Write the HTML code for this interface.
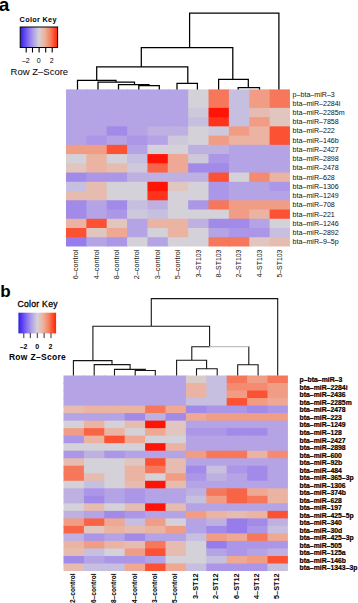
<!DOCTYPE html>
<html><head><meta charset="utf-8"><title>heatmap</title>
<style>html,body{margin:0;padding:0;background:#fff;width:358px;height:603px;overflow:hidden}svg{display:block}text{font-family:"Liberation Sans",sans-serif}</style>
</head><body>
<svg width="358" height="603" viewBox="0 0 358 603">
<defs>
<linearGradient id="g" x1="0" x2="1" y1="0" y2="0">
<stop offset="0" stop-color="#3020e4"/>
<stop offset="0.08" stop-color="#5038f0"/>
<stop offset="0.2" stop-color="#8068f0"/>
<stop offset="0.35" stop-color="#b0a0e8"/>
<stop offset="0.5" stop-color="#d4d2d6"/>
<stop offset="0.65" stop-color="#ecb4a0"/>
<stop offset="0.8" stop-color="#f68262"/>
<stop offset="0.95" stop-color="#fd3a1a"/>
<stop offset="1" stop-color="#ff2410"/>
</linearGradient>
</defs>
<rect x="66.00" y="89.40" width="21.36" height="10.24" fill="#b4a3e5"/>
<rect x="86.36" y="89.40" width="21.36" height="10.24" fill="#b4a3e5"/>
<rect x="106.72" y="89.40" width="21.36" height="10.24" fill="#b4a3e5"/>
<rect x="127.08" y="89.40" width="21.36" height="10.24" fill="#b4a3e5"/>
<rect x="147.44" y="89.40" width="21.36" height="10.24" fill="#b4a3e5"/>
<rect x="167.80" y="89.40" width="21.36" height="10.24" fill="#b4a3e5"/>
<rect x="188.16" y="89.40" width="21.36" height="10.24" fill="#d5d1d8"/>
<rect x="208.52" y="89.40" width="21.36" height="10.24" fill="#f7775a"/>
<rect x="228.88" y="89.40" width="21.36" height="10.24" fill="#c7bfdf"/>
<rect x="249.24" y="89.40" width="21.36" height="10.24" fill="#f19d85"/>
<rect x="269.60" y="89.40" width="20.36" height="10.24" fill="#f7775a"/>
<rect x="66.00" y="98.64" width="21.36" height="10.24" fill="#b4a3e5"/>
<rect x="86.36" y="98.64" width="21.36" height="10.24" fill="#b4a3e5"/>
<rect x="106.72" y="98.64" width="21.36" height="10.24" fill="#b4a3e5"/>
<rect x="127.08" y="98.64" width="21.36" height="10.24" fill="#b4a3e5"/>
<rect x="147.44" y="98.64" width="21.36" height="10.24" fill="#b4a3e5"/>
<rect x="167.80" y="98.64" width="21.36" height="10.24" fill="#b4a3e5"/>
<rect x="188.16" y="98.64" width="21.36" height="10.24" fill="#d5d1d8"/>
<rect x="208.52" y="98.64" width="21.36" height="10.24" fill="#f7775a"/>
<rect x="228.88" y="98.64" width="21.36" height="10.24" fill="#c7bfdf"/>
<rect x="249.24" y="98.64" width="21.36" height="10.24" fill="#f19d85"/>
<rect x="269.60" y="98.64" width="20.36" height="10.24" fill="#f7775a"/>
<rect x="66.00" y="107.88" width="21.36" height="10.24" fill="#b4a3e5"/>
<rect x="86.36" y="107.88" width="21.36" height="10.24" fill="#b4a3e5"/>
<rect x="106.72" y="107.88" width="21.36" height="10.24" fill="#b4a3e5"/>
<rect x="127.08" y="107.88" width="21.36" height="10.24" fill="#b4a3e5"/>
<rect x="147.44" y="107.88" width="21.36" height="10.24" fill="#b4a3e5"/>
<rect x="167.80" y="107.88" width="21.36" height="10.24" fill="#b4a3e5"/>
<rect x="188.16" y="107.88" width="21.36" height="10.24" fill="#cec8dc"/>
<rect x="208.52" y="107.88" width="21.36" height="10.24" fill="#ff1406"/>
<rect x="228.88" y="107.88" width="21.36" height="10.24" fill="#c7bfdf"/>
<rect x="249.24" y="107.88" width="21.36" height="10.24" fill="#e6bcb0"/>
<rect x="269.60" y="107.88" width="20.36" height="10.24" fill="#e0c6be"/>
<rect x="66.00" y="117.12" width="21.36" height="10.24" fill="#b4a3e5"/>
<rect x="86.36" y="117.12" width="21.36" height="10.24" fill="#b4a3e5"/>
<rect x="106.72" y="117.12" width="21.36" height="10.24" fill="#b4a3e5"/>
<rect x="127.08" y="117.12" width="21.36" height="10.24" fill="#b4a3e5"/>
<rect x="147.44" y="117.12" width="21.36" height="10.24" fill="#b4a3e5"/>
<rect x="167.80" y="117.12" width="21.36" height="10.24" fill="#b4a3e5"/>
<rect x="188.16" y="117.12" width="21.36" height="10.24" fill="#c7bfdf"/>
<rect x="208.52" y="117.12" width="21.36" height="10.24" fill="#fe331c"/>
<rect x="228.88" y="117.12" width="21.36" height="10.24" fill="#c7bfdf"/>
<rect x="249.24" y="117.12" width="21.36" height="10.24" fill="#f19d85"/>
<rect x="269.60" y="117.12" width="20.36" height="10.24" fill="#e0c6be"/>
<rect x="66.00" y="126.36" width="21.36" height="10.24" fill="#b4a3e5"/>
<rect x="86.36" y="126.36" width="21.36" height="10.24" fill="#b4a3e5"/>
<rect x="106.72" y="126.36" width="21.36" height="10.24" fill="#a28ae9"/>
<rect x="127.08" y="126.36" width="21.36" height="10.24" fill="#b4a3e5"/>
<rect x="147.44" y="126.36" width="21.36" height="10.24" fill="#beb1e2"/>
<rect x="167.80" y="126.36" width="21.36" height="10.24" fill="#beb1e2"/>
<rect x="188.16" y="126.36" width="21.36" height="10.24" fill="#d5d1d8"/>
<rect x="208.52" y="126.36" width="21.36" height="10.24" fill="#cec8dc"/>
<rect x="228.88" y="126.36" width="21.36" height="10.24" fill="#f19d85"/>
<rect x="249.24" y="126.36" width="21.36" height="10.24" fill="#ebb3a2"/>
<rect x="269.60" y="126.36" width="20.36" height="10.24" fill="#fc5233"/>
<rect x="66.00" y="135.60" width="21.36" height="10.24" fill="#b4a3e5"/>
<rect x="86.36" y="135.60" width="21.36" height="10.24" fill="#ab96e7"/>
<rect x="106.72" y="135.60" width="21.36" height="10.24" fill="#b4a3e5"/>
<rect x="127.08" y="135.60" width="21.36" height="10.24" fill="#ab96e7"/>
<rect x="147.44" y="135.60" width="21.36" height="10.24" fill="#b4a3e5"/>
<rect x="167.80" y="135.60" width="21.36" height="10.24" fill="#cec8dc"/>
<rect x="188.16" y="135.60" width="21.36" height="10.24" fill="#d5d1d8"/>
<rect x="208.52" y="135.60" width="21.36" height="10.24" fill="#f19d85"/>
<rect x="228.88" y="135.60" width="21.36" height="10.24" fill="#ebb3a2"/>
<rect x="249.24" y="135.60" width="21.36" height="10.24" fill="#ebb3a2"/>
<rect x="269.60" y="135.60" width="20.36" height="10.24" fill="#fc5233"/>
<rect x="66.00" y="144.84" width="21.36" height="10.24" fill="#f19d85"/>
<rect x="86.36" y="144.84" width="21.36" height="10.24" fill="#f19d85"/>
<rect x="106.72" y="144.84" width="21.36" height="10.24" fill="#fc5233"/>
<rect x="127.08" y="144.84" width="21.36" height="10.24" fill="#b4a3e5"/>
<rect x="147.44" y="144.84" width="21.36" height="10.24" fill="#d5d1d8"/>
<rect x="167.80" y="144.84" width="21.36" height="10.24" fill="#d5d1d8"/>
<rect x="188.16" y="144.84" width="21.36" height="10.24" fill="#beb1e2"/>
<rect x="208.52" y="144.84" width="21.36" height="10.24" fill="#beb1e2"/>
<rect x="228.88" y="144.84" width="21.36" height="10.24" fill="#b4a3e5"/>
<rect x="249.24" y="144.84" width="21.36" height="10.24" fill="#b4a3e5"/>
<rect x="269.60" y="144.84" width="20.36" height="10.24" fill="#b4a3e5"/>
<rect x="66.00" y="154.08" width="21.36" height="10.24" fill="#d5d1d8"/>
<rect x="86.36" y="154.08" width="21.36" height="10.24" fill="#ebb3a2"/>
<rect x="106.72" y="154.08" width="21.36" height="10.24" fill="#d5d1d8"/>
<rect x="127.08" y="154.08" width="21.36" height="10.24" fill="#c7bfdf"/>
<rect x="147.44" y="154.08" width="21.36" height="10.24" fill="#ff1406"/>
<rect x="167.80" y="154.08" width="21.36" height="10.24" fill="#eea894"/>
<rect x="188.16" y="154.08" width="21.36" height="10.24" fill="#cec8dc"/>
<rect x="208.52" y="154.08" width="21.36" height="10.24" fill="#ab96e7"/>
<rect x="228.88" y="154.08" width="21.36" height="10.24" fill="#b4a3e5"/>
<rect x="249.24" y="154.08" width="21.36" height="10.24" fill="#b4a3e5"/>
<rect x="269.60" y="154.08" width="20.36" height="10.24" fill="#b4a3e5"/>
<rect x="66.00" y="163.32" width="21.36" height="10.24" fill="#e0c6be"/>
<rect x="86.36" y="163.32" width="21.36" height="10.24" fill="#ebb3a2"/>
<rect x="106.72" y="163.32" width="21.36" height="10.24" fill="#e6bcb0"/>
<rect x="127.08" y="163.32" width="21.36" height="10.24" fill="#cec8dc"/>
<rect x="147.44" y="163.32" width="21.36" height="10.24" fill="#fa6446"/>
<rect x="167.80" y="163.32" width="21.36" height="10.24" fill="#eea894"/>
<rect x="188.16" y="163.32" width="21.36" height="10.24" fill="#a28ae9"/>
<rect x="208.52" y="163.32" width="21.36" height="10.24" fill="#a28ae9"/>
<rect x="228.88" y="163.32" width="21.36" height="10.24" fill="#b4a3e5"/>
<rect x="249.24" y="163.32" width="21.36" height="10.24" fill="#b4a3e5"/>
<rect x="269.60" y="163.32" width="20.36" height="10.24" fill="#b4a3e5"/>
<rect x="66.00" y="172.56" width="21.36" height="10.24" fill="#a28ae9"/>
<rect x="86.36" y="172.56" width="21.36" height="10.24" fill="#ab96e7"/>
<rect x="106.72" y="172.56" width="21.36" height="10.24" fill="#ab96e7"/>
<rect x="127.08" y="172.56" width="21.36" height="10.24" fill="#beb1e2"/>
<rect x="147.44" y="172.56" width="21.36" height="10.24" fill="#beb1e2"/>
<rect x="167.80" y="172.56" width="21.36" height="10.24" fill="#beb1e2"/>
<rect x="188.16" y="172.56" width="21.36" height="10.24" fill="#beb1e2"/>
<rect x="208.52" y="172.56" width="21.36" height="10.24" fill="#fc5233"/>
<rect x="228.88" y="172.56" width="21.36" height="10.24" fill="#d5d1d8"/>
<rect x="249.24" y="172.56" width="21.36" height="10.24" fill="#f48a70"/>
<rect x="269.60" y="172.56" width="20.36" height="10.24" fill="#ebb3a2"/>
<rect x="66.00" y="181.80" width="21.36" height="10.24" fill="#c7bfdf"/>
<rect x="86.36" y="181.80" width="21.36" height="10.24" fill="#e6bcb0"/>
<rect x="106.72" y="181.80" width="21.36" height="10.24" fill="#d5d1d8"/>
<rect x="127.08" y="181.80" width="21.36" height="10.24" fill="#d5d1d8"/>
<rect x="147.44" y="181.80" width="21.36" height="10.24" fill="#ff1406"/>
<rect x="167.80" y="181.80" width="21.36" height="10.24" fill="#e0c6be"/>
<rect x="188.16" y="181.80" width="21.36" height="10.24" fill="#d5d1d8"/>
<rect x="208.52" y="181.80" width="21.36" height="10.24" fill="#ab96e7"/>
<rect x="228.88" y="181.80" width="21.36" height="10.24" fill="#b4a3e5"/>
<rect x="249.24" y="181.80" width="21.36" height="10.24" fill="#b4a3e5"/>
<rect x="269.60" y="181.80" width="20.36" height="10.24" fill="#ab96e7"/>
<rect x="66.00" y="191.04" width="21.36" height="10.24" fill="#e6bcb0"/>
<rect x="86.36" y="191.04" width="21.36" height="10.24" fill="#e6bcb0"/>
<rect x="106.72" y="191.04" width="21.36" height="10.24" fill="#d5d1d8"/>
<rect x="127.08" y="191.04" width="21.36" height="10.24" fill="#d5d1d8"/>
<rect x="147.44" y="191.04" width="21.36" height="10.24" fill="#fe331c"/>
<rect x="167.80" y="191.04" width="21.36" height="10.24" fill="#d5d1d8"/>
<rect x="188.16" y="191.04" width="21.36" height="10.24" fill="#d5d1d8"/>
<rect x="208.52" y="191.04" width="21.36" height="10.24" fill="#ab96e7"/>
<rect x="228.88" y="191.04" width="21.36" height="10.24" fill="#b4a3e5"/>
<rect x="249.24" y="191.04" width="21.36" height="10.24" fill="#b4a3e5"/>
<rect x="269.60" y="191.04" width="20.36" height="10.24" fill="#b4a3e5"/>
<rect x="66.00" y="200.28" width="21.36" height="10.24" fill="#a28ae9"/>
<rect x="86.36" y="200.28" width="21.36" height="10.24" fill="#b4a3e5"/>
<rect x="106.72" y="200.28" width="21.36" height="10.24" fill="#a28ae9"/>
<rect x="127.08" y="200.28" width="21.36" height="10.24" fill="#c7bfdf"/>
<rect x="147.44" y="200.28" width="21.36" height="10.24" fill="#beb1e2"/>
<rect x="167.80" y="200.28" width="21.36" height="10.24" fill="#d5d1d8"/>
<rect x="188.16" y="200.28" width="21.36" height="10.24" fill="#ab96e7"/>
<rect x="208.52" y="200.28" width="21.36" height="10.24" fill="#f7775a"/>
<rect x="228.88" y="200.28" width="21.36" height="10.24" fill="#f19d85"/>
<rect x="249.24" y="200.28" width="21.36" height="10.24" fill="#f19d85"/>
<rect x="269.60" y="200.28" width="20.36" height="10.24" fill="#f19d85"/>
<rect x="66.00" y="209.52" width="21.36" height="10.24" fill="#a28ae9"/>
<rect x="86.36" y="209.52" width="21.36" height="10.24" fill="#b4a3e5"/>
<rect x="106.72" y="209.52" width="21.36" height="10.24" fill="#ab96e7"/>
<rect x="127.08" y="209.52" width="21.36" height="10.24" fill="#cec8dc"/>
<rect x="147.44" y="209.52" width="21.36" height="10.24" fill="#c7bfdf"/>
<rect x="167.80" y="209.52" width="21.36" height="10.24" fill="#d5d1d8"/>
<rect x="188.16" y="209.52" width="21.36" height="10.24" fill="#d5d1d8"/>
<rect x="208.52" y="209.52" width="21.36" height="10.24" fill="#d5d1d8"/>
<rect x="228.88" y="209.52" width="21.36" height="10.24" fill="#f19d85"/>
<rect x="249.24" y="209.52" width="21.36" height="10.24" fill="#ebb3a2"/>
<rect x="269.60" y="209.52" width="20.36" height="10.24" fill="#fc5233"/>
<rect x="66.00" y="218.76" width="21.36" height="10.24" fill="#ebb3a2"/>
<rect x="86.36" y="218.76" width="21.36" height="10.24" fill="#fc5233"/>
<rect x="106.72" y="218.76" width="21.36" height="10.24" fill="#e0c6be"/>
<rect x="127.08" y="218.76" width="21.36" height="10.24" fill="#b4a3e5"/>
<rect x="147.44" y="218.76" width="21.36" height="10.24" fill="#ebb3a2"/>
<rect x="167.80" y="218.76" width="21.36" height="10.24" fill="#ebb3a2"/>
<rect x="188.16" y="218.76" width="21.36" height="10.24" fill="#beb1e2"/>
<rect x="208.52" y="218.76" width="21.36" height="10.24" fill="#a28ae9"/>
<rect x="228.88" y="218.76" width="21.36" height="10.24" fill="#a28ae9"/>
<rect x="249.24" y="218.76" width="21.36" height="10.24" fill="#b4a3e5"/>
<rect x="269.60" y="218.76" width="20.36" height="10.24" fill="#d5d1d8"/>
<rect x="66.00" y="228.00" width="21.36" height="10.24" fill="#fc5233"/>
<rect x="86.36" y="228.00" width="21.36" height="10.24" fill="#e0c6be"/>
<rect x="106.72" y="228.00" width="21.36" height="10.24" fill="#eea894"/>
<rect x="127.08" y="228.00" width="21.36" height="10.24" fill="#b4a3e5"/>
<rect x="147.44" y="228.00" width="21.36" height="10.24" fill="#d5d1d8"/>
<rect x="167.80" y="228.00" width="21.36" height="10.24" fill="#ebb3a2"/>
<rect x="188.16" y="228.00" width="21.36" height="10.24" fill="#d5d1d8"/>
<rect x="208.52" y="228.00" width="21.36" height="10.24" fill="#b4a3e5"/>
<rect x="228.88" y="228.00" width="21.36" height="10.24" fill="#ab96e7"/>
<rect x="249.24" y="228.00" width="21.36" height="10.24" fill="#ab96e7"/>
<rect x="269.60" y="228.00" width="20.36" height="10.24" fill="#c7bfdf"/>
<rect x="66.00" y="237.24" width="21.36" height="9.24" fill="#977dec"/>
<rect x="86.36" y="237.24" width="21.36" height="9.24" fill="#b4a3e5"/>
<rect x="106.72" y="237.24" width="21.36" height="9.24" fill="#ab96e7"/>
<rect x="127.08" y="237.24" width="21.36" height="9.24" fill="#d5d1d8"/>
<rect x="147.44" y="237.24" width="21.36" height="9.24" fill="#b4a3e5"/>
<rect x="167.80" y="237.24" width="21.36" height="9.24" fill="#d5d1d8"/>
<rect x="188.16" y="237.24" width="21.36" height="9.24" fill="#d5d1d8"/>
<rect x="208.52" y="237.24" width="21.36" height="9.24" fill="#f7775a"/>
<rect x="228.88" y="237.24" width="21.36" height="9.24" fill="#f7775a"/>
<rect x="249.24" y="237.24" width="21.36" height="9.24" fill="#e0c6be"/>
<rect x="269.60" y="237.24" width="20.36" height="9.24" fill="#e6bcb0"/>
<rect x="63.50" y="375.50" width="21.40" height="8.52" fill="#b4a3e5"/>
<rect x="83.90" y="375.50" width="21.40" height="8.52" fill="#b4a3e5"/>
<rect x="104.30" y="375.50" width="21.40" height="8.52" fill="#b4a3e5"/>
<rect x="124.70" y="375.50" width="21.40" height="8.52" fill="#b4a3e5"/>
<rect x="145.10" y="375.50" width="21.40" height="8.52" fill="#b4a3e5"/>
<rect x="165.50" y="375.50" width="21.40" height="8.52" fill="#b4a3e5"/>
<rect x="185.90" y="375.50" width="21.40" height="8.52" fill="#dacccb"/>
<rect x="206.30" y="375.50" width="21.40" height="8.52" fill="#c7bfdf"/>
<rect x="226.70" y="375.50" width="21.40" height="8.52" fill="#f7775a"/>
<rect x="247.10" y="375.50" width="21.40" height="8.52" fill="#f19d85"/>
<rect x="267.50" y="375.50" width="20.40" height="8.52" fill="#f7775a"/>
<rect x="63.50" y="383.02" width="21.40" height="8.52" fill="#b4a3e5"/>
<rect x="83.90" y="383.02" width="21.40" height="8.52" fill="#b4a3e5"/>
<rect x="104.30" y="383.02" width="21.40" height="8.52" fill="#b4a3e5"/>
<rect x="124.70" y="383.02" width="21.40" height="8.52" fill="#b4a3e5"/>
<rect x="145.10" y="383.02" width="21.40" height="8.52" fill="#b4a3e5"/>
<rect x="165.50" y="383.02" width="21.40" height="8.52" fill="#b4a3e5"/>
<rect x="185.90" y="383.02" width="21.40" height="8.52" fill="#ebb3a2"/>
<rect x="206.30" y="383.02" width="21.40" height="8.52" fill="#c7bfdf"/>
<rect x="226.70" y="383.02" width="21.40" height="8.52" fill="#f48a70"/>
<rect x="247.10" y="383.02" width="21.40" height="8.52" fill="#f48a70"/>
<rect x="267.50" y="383.02" width="20.40" height="8.52" fill="#f19d85"/>
<rect x="63.50" y="390.54" width="21.40" height="8.52" fill="#b4a3e5"/>
<rect x="83.90" y="390.54" width="21.40" height="8.52" fill="#b4a3e5"/>
<rect x="104.30" y="390.54" width="21.40" height="8.52" fill="#b4a3e5"/>
<rect x="124.70" y="390.54" width="21.40" height="8.52" fill="#b4a3e5"/>
<rect x="145.10" y="390.54" width="21.40" height="8.52" fill="#b4a3e5"/>
<rect x="165.50" y="390.54" width="21.40" height="8.52" fill="#b4a3e5"/>
<rect x="185.90" y="390.54" width="21.40" height="8.52" fill="#ebb3a2"/>
<rect x="206.30" y="390.54" width="21.40" height="8.52" fill="#c7bfdf"/>
<rect x="226.70" y="390.54" width="21.40" height="8.52" fill="#f19d85"/>
<rect x="247.10" y="390.54" width="21.40" height="8.52" fill="#fc5233"/>
<rect x="267.50" y="390.54" width="20.40" height="8.52" fill="#f19d85"/>
<rect x="63.50" y="398.06" width="21.40" height="8.52" fill="#b4a3e5"/>
<rect x="83.90" y="398.06" width="21.40" height="8.52" fill="#b4a3e5"/>
<rect x="104.30" y="398.06" width="21.40" height="8.52" fill="#b4a3e5"/>
<rect x="124.70" y="398.06" width="21.40" height="8.52" fill="#b4a3e5"/>
<rect x="145.10" y="398.06" width="21.40" height="8.52" fill="#b4a3e5"/>
<rect x="165.50" y="398.06" width="21.40" height="8.52" fill="#b4a3e5"/>
<rect x="185.90" y="398.06" width="21.40" height="8.52" fill="#c7bfdf"/>
<rect x="206.30" y="398.06" width="21.40" height="8.52" fill="#c7bfdf"/>
<rect x="226.70" y="398.06" width="21.40" height="8.52" fill="#fc5233"/>
<rect x="247.10" y="398.06" width="21.40" height="8.52" fill="#f19d85"/>
<rect x="267.50" y="398.06" width="20.40" height="8.52" fill="#eea894"/>
<rect x="63.50" y="405.58" width="21.40" height="8.52" fill="#e6bcb0"/>
<rect x="83.90" y="405.58" width="21.40" height="8.52" fill="#ebb3a2"/>
<rect x="104.30" y="405.58" width="21.40" height="8.52" fill="#ebb3a2"/>
<rect x="124.70" y="405.58" width="21.40" height="8.52" fill="#ebb3a2"/>
<rect x="145.10" y="405.58" width="21.40" height="8.52" fill="#f7775a"/>
<rect x="165.50" y="405.58" width="21.40" height="8.52" fill="#eea894"/>
<rect x="185.90" y="405.58" width="21.40" height="8.52" fill="#a28ae9"/>
<rect x="206.30" y="405.58" width="21.40" height="8.52" fill="#ab96e7"/>
<rect x="226.70" y="405.58" width="21.40" height="8.52" fill="#ab96e7"/>
<rect x="247.10" y="405.58" width="21.40" height="8.52" fill="#a28ae9"/>
<rect x="267.50" y="405.58" width="20.40" height="8.52" fill="#ab96e7"/>
<rect x="63.50" y="413.10" width="21.40" height="8.52" fill="#b4a3e5"/>
<rect x="83.90" y="413.10" width="21.40" height="8.52" fill="#b4a3e5"/>
<rect x="104.30" y="413.10" width="21.40" height="8.52" fill="#b4a3e5"/>
<rect x="124.70" y="413.10" width="21.40" height="8.52" fill="#a28ae9"/>
<rect x="145.10" y="413.10" width="21.40" height="8.52" fill="#beb1e2"/>
<rect x="165.50" y="413.10" width="21.40" height="8.52" fill="#a28ae9"/>
<rect x="185.90" y="413.10" width="21.40" height="8.52" fill="#eea894"/>
<rect x="206.30" y="413.10" width="21.40" height="8.52" fill="#f19d85"/>
<rect x="226.70" y="413.10" width="21.40" height="8.52" fill="#f19d85"/>
<rect x="247.10" y="413.10" width="21.40" height="8.52" fill="#f19d85"/>
<rect x="267.50" y="413.10" width="20.40" height="8.52" fill="#f19d85"/>
<rect x="63.50" y="420.62" width="21.40" height="8.52" fill="#d5d1d8"/>
<rect x="83.90" y="420.62" width="21.40" height="8.52" fill="#ebb3a2"/>
<rect x="104.30" y="420.62" width="21.40" height="8.52" fill="#d5d1d8"/>
<rect x="124.70" y="420.62" width="21.40" height="8.52" fill="#e6bcb0"/>
<rect x="145.10" y="420.62" width="21.40" height="8.52" fill="#ff1406"/>
<rect x="165.50" y="420.62" width="21.40" height="8.52" fill="#e0c6be"/>
<rect x="185.90" y="420.62" width="21.40" height="8.52" fill="#b4a3e5"/>
<rect x="206.30" y="420.62" width="21.40" height="8.52" fill="#b4a3e5"/>
<rect x="226.70" y="420.62" width="21.40" height="8.52" fill="#b4a3e5"/>
<rect x="247.10" y="420.62" width="21.40" height="8.52" fill="#b4a3e5"/>
<rect x="267.50" y="420.62" width="20.40" height="8.52" fill="#b4a3e5"/>
<rect x="63.50" y="428.14" width="21.40" height="8.52" fill="#f19d85"/>
<rect x="83.90" y="428.14" width="21.40" height="8.52" fill="#fa6446"/>
<rect x="104.30" y="428.14" width="21.40" height="8.52" fill="#ebb3a2"/>
<rect x="124.70" y="428.14" width="21.40" height="8.52" fill="#d5d1d8"/>
<rect x="145.10" y="428.14" width="21.40" height="8.52" fill="#eea894"/>
<rect x="165.50" y="428.14" width="21.40" height="8.52" fill="#e0c6be"/>
<rect x="185.90" y="428.14" width="21.40" height="8.52" fill="#ab96e7"/>
<rect x="206.30" y="428.14" width="21.40" height="8.52" fill="#ab96e7"/>
<rect x="226.70" y="428.14" width="21.40" height="8.52" fill="#a28ae9"/>
<rect x="247.10" y="428.14" width="21.40" height="8.52" fill="#a28ae9"/>
<rect x="267.50" y="428.14" width="20.40" height="8.52" fill="#b4a3e5"/>
<rect x="63.50" y="435.66" width="21.40" height="8.52" fill="#ab96e7"/>
<rect x="83.90" y="435.66" width="21.40" height="8.52" fill="#ebb3a2"/>
<rect x="104.30" y="435.66" width="21.40" height="8.52" fill="#fc5233"/>
<rect x="124.70" y="435.66" width="21.40" height="8.52" fill="#eea894"/>
<rect x="145.10" y="435.66" width="21.40" height="8.52" fill="#d5d1d8"/>
<rect x="165.50" y="435.66" width="21.40" height="8.52" fill="#d5d1d8"/>
<rect x="185.90" y="435.66" width="21.40" height="8.52" fill="#b4a3e5"/>
<rect x="206.30" y="435.66" width="21.40" height="8.52" fill="#b4a3e5"/>
<rect x="226.70" y="435.66" width="21.40" height="8.52" fill="#b4a3e5"/>
<rect x="247.10" y="435.66" width="21.40" height="8.52" fill="#b4a3e5"/>
<rect x="267.50" y="435.66" width="20.40" height="8.52" fill="#b4a3e5"/>
<rect x="63.50" y="443.18" width="21.40" height="8.52" fill="#d5d1d8"/>
<rect x="83.90" y="443.18" width="21.40" height="8.52" fill="#d5d1d8"/>
<rect x="104.30" y="443.18" width="21.40" height="8.52" fill="#d5d1d8"/>
<rect x="124.70" y="443.18" width="21.40" height="8.52" fill="#d5d1d8"/>
<rect x="145.10" y="443.18" width="21.40" height="8.52" fill="#ff1406"/>
<rect x="165.50" y="443.18" width="21.40" height="8.52" fill="#ebb3a2"/>
<rect x="185.90" y="443.18" width="21.40" height="8.52" fill="#b4a3e5"/>
<rect x="206.30" y="443.18" width="21.40" height="8.52" fill="#b4a3e5"/>
<rect x="226.70" y="443.18" width="21.40" height="8.52" fill="#b4a3e5"/>
<rect x="247.10" y="443.18" width="21.40" height="8.52" fill="#b4a3e5"/>
<rect x="267.50" y="443.18" width="20.40" height="8.52" fill="#b4a3e5"/>
<rect x="63.50" y="450.70" width="21.40" height="8.52" fill="#ab96e7"/>
<rect x="83.90" y="450.70" width="21.40" height="8.52" fill="#beb1e2"/>
<rect x="104.30" y="450.70" width="21.40" height="8.52" fill="#ab96e7"/>
<rect x="124.70" y="450.70" width="21.40" height="8.52" fill="#b4a3e5"/>
<rect x="145.10" y="450.70" width="21.40" height="8.52" fill="#b4a3e5"/>
<rect x="165.50" y="450.70" width="21.40" height="8.52" fill="#b4a3e5"/>
<rect x="185.90" y="450.70" width="21.40" height="8.52" fill="#f19d85"/>
<rect x="206.30" y="450.70" width="21.40" height="8.52" fill="#f7775a"/>
<rect x="226.70" y="450.70" width="21.40" height="8.52" fill="#f7775a"/>
<rect x="247.10" y="450.70" width="21.40" height="8.52" fill="#ebb3a2"/>
<rect x="267.50" y="450.70" width="20.40" height="8.52" fill="#f48a70"/>
<rect x="63.50" y="458.22" width="21.40" height="8.52" fill="#e6bcb0"/>
<rect x="83.90" y="458.22" width="21.40" height="8.52" fill="#d5d1d8"/>
<rect x="104.30" y="458.22" width="21.40" height="8.52" fill="#d5d1d8"/>
<rect x="124.70" y="458.22" width="21.40" height="8.52" fill="#e0c6be"/>
<rect x="145.10" y="458.22" width="21.40" height="8.52" fill="#fc5233"/>
<rect x="165.50" y="458.22" width="21.40" height="8.52" fill="#e6bcb0"/>
<rect x="185.90" y="458.22" width="21.40" height="8.52" fill="#b4a3e5"/>
<rect x="206.30" y="458.22" width="21.40" height="8.52" fill="#b4a3e5"/>
<rect x="226.70" y="458.22" width="21.40" height="8.52" fill="#b4a3e5"/>
<rect x="247.10" y="458.22" width="21.40" height="8.52" fill="#b4a3e5"/>
<rect x="267.50" y="458.22" width="20.40" height="8.52" fill="#b4a3e5"/>
<rect x="63.50" y="465.74" width="21.40" height="8.52" fill="#f7775a"/>
<rect x="83.90" y="465.74" width="21.40" height="8.52" fill="#d5d1d8"/>
<rect x="104.30" y="465.74" width="21.40" height="8.52" fill="#d5d1d8"/>
<rect x="124.70" y="465.74" width="21.40" height="8.52" fill="#ebb3a2"/>
<rect x="145.10" y="465.74" width="21.40" height="8.52" fill="#f7775a"/>
<rect x="165.50" y="465.74" width="21.40" height="8.52" fill="#e6bcb0"/>
<rect x="185.90" y="465.74" width="21.40" height="8.52" fill="#a28ae9"/>
<rect x="206.30" y="465.74" width="21.40" height="8.52" fill="#c7bfdf"/>
<rect x="226.70" y="465.74" width="21.40" height="8.52" fill="#ab96e7"/>
<rect x="247.10" y="465.74" width="21.40" height="8.52" fill="#a28ae9"/>
<rect x="267.50" y="465.74" width="20.40" height="8.52" fill="#b4a3e5"/>
<rect x="63.50" y="473.26" width="21.40" height="8.52" fill="#f7775a"/>
<rect x="83.90" y="473.26" width="21.40" height="8.52" fill="#e6bcb0"/>
<rect x="104.30" y="473.26" width="21.40" height="8.52" fill="#d5d1d8"/>
<rect x="124.70" y="473.26" width="21.40" height="8.52" fill="#ebb3a2"/>
<rect x="145.10" y="473.26" width="21.40" height="8.52" fill="#d5d1d8"/>
<rect x="165.50" y="473.26" width="21.40" height="8.52" fill="#f19d85"/>
<rect x="185.90" y="473.26" width="21.40" height="8.52" fill="#ab96e7"/>
<rect x="206.30" y="473.26" width="21.40" height="8.52" fill="#beb1e2"/>
<rect x="226.70" y="473.26" width="21.40" height="8.52" fill="#b4a3e5"/>
<rect x="247.10" y="473.26" width="21.40" height="8.52" fill="#a28ae9"/>
<rect x="267.50" y="473.26" width="20.40" height="8.52" fill="#b4a3e5"/>
<rect x="63.50" y="480.78" width="21.40" height="8.52" fill="#d5d1d8"/>
<rect x="83.90" y="480.78" width="21.40" height="8.52" fill="#c7bfdf"/>
<rect x="104.30" y="480.78" width="21.40" height="8.52" fill="#d5d1d8"/>
<rect x="124.70" y="480.78" width="21.40" height="8.52" fill="#e6bcb0"/>
<rect x="145.10" y="480.78" width="21.40" height="8.52" fill="#ff1406"/>
<rect x="165.50" y="480.78" width="21.40" height="8.52" fill="#e6bcb0"/>
<rect x="185.90" y="480.78" width="21.40" height="8.52" fill="#b4a3e5"/>
<rect x="206.30" y="480.78" width="21.40" height="8.52" fill="#b4a3e5"/>
<rect x="226.70" y="480.78" width="21.40" height="8.52" fill="#b4a3e5"/>
<rect x="247.10" y="480.78" width="21.40" height="8.52" fill="#b4a3e5"/>
<rect x="267.50" y="480.78" width="20.40" height="8.52" fill="#b4a3e5"/>
<rect x="63.50" y="488.30" width="21.40" height="8.52" fill="#beb1e2"/>
<rect x="83.90" y="488.30" width="21.40" height="8.52" fill="#ab96e7"/>
<rect x="104.30" y="488.30" width="21.40" height="8.52" fill="#b4a3e5"/>
<rect x="124.70" y="488.30" width="21.40" height="8.52" fill="#ab96e7"/>
<rect x="145.10" y="488.30" width="21.40" height="8.52" fill="#b4a3e5"/>
<rect x="165.50" y="488.30" width="21.40" height="8.52" fill="#b4a3e5"/>
<rect x="185.90" y="488.30" width="21.40" height="8.52" fill="#beb1e2"/>
<rect x="206.30" y="488.30" width="21.40" height="8.52" fill="#f7775a"/>
<rect x="226.70" y="488.30" width="21.40" height="8.52" fill="#fa6446"/>
<rect x="247.10" y="488.30" width="21.40" height="8.52" fill="#eea894"/>
<rect x="267.50" y="488.30" width="20.40" height="8.52" fill="#ebb3a2"/>
<rect x="63.50" y="495.82" width="21.40" height="8.52" fill="#beb1e2"/>
<rect x="83.90" y="495.82" width="21.40" height="8.52" fill="#a28ae9"/>
<rect x="104.30" y="495.82" width="21.40" height="8.52" fill="#b4a3e5"/>
<rect x="124.70" y="495.82" width="21.40" height="8.52" fill="#ab96e7"/>
<rect x="145.10" y="495.82" width="21.40" height="8.52" fill="#b4a3e5"/>
<rect x="165.50" y="495.82" width="21.40" height="8.52" fill="#b4a3e5"/>
<rect x="185.90" y="495.82" width="21.40" height="8.52" fill="#c7bfdf"/>
<rect x="206.30" y="495.82" width="21.40" height="8.52" fill="#f19d85"/>
<rect x="226.70" y="495.82" width="21.40" height="8.52" fill="#fa6446"/>
<rect x="247.10" y="495.82" width="21.40" height="8.52" fill="#f7775a"/>
<rect x="267.50" y="495.82" width="20.40" height="8.52" fill="#ebb3a2"/>
<rect x="63.50" y="503.34" width="21.40" height="8.52" fill="#d5d1d8"/>
<rect x="83.90" y="503.34" width="21.40" height="8.52" fill="#e6bcb0"/>
<rect x="104.30" y="503.34" width="21.40" height="8.52" fill="#d5d1d8"/>
<rect x="124.70" y="503.34" width="21.40" height="8.52" fill="#e6bcb0"/>
<rect x="145.10" y="503.34" width="21.40" height="8.52" fill="#ff1406"/>
<rect x="165.50" y="503.34" width="21.40" height="8.52" fill="#e6bcb0"/>
<rect x="185.90" y="503.34" width="21.40" height="8.52" fill="#b4a3e5"/>
<rect x="206.30" y="503.34" width="21.40" height="8.52" fill="#b4a3e5"/>
<rect x="226.70" y="503.34" width="21.40" height="8.52" fill="#b4a3e5"/>
<rect x="247.10" y="503.34" width="21.40" height="8.52" fill="#b4a3e5"/>
<rect x="267.50" y="503.34" width="20.40" height="8.52" fill="#b4a3e5"/>
<rect x="63.50" y="510.86" width="21.40" height="8.52" fill="#beb1e2"/>
<rect x="83.90" y="510.86" width="21.40" height="8.52" fill="#b4a3e5"/>
<rect x="104.30" y="510.86" width="21.40" height="8.52" fill="#a28ae9"/>
<rect x="124.70" y="510.86" width="21.40" height="8.52" fill="#ab96e7"/>
<rect x="145.10" y="510.86" width="21.40" height="8.52" fill="#b4a3e5"/>
<rect x="165.50" y="510.86" width="21.40" height="8.52" fill="#b4a3e5"/>
<rect x="185.90" y="510.86" width="21.40" height="8.52" fill="#f19d85"/>
<rect x="206.30" y="510.86" width="21.40" height="8.52" fill="#ebb3a2"/>
<rect x="226.70" y="510.86" width="21.40" height="8.52" fill="#e6bcb0"/>
<rect x="247.10" y="510.86" width="21.40" height="8.52" fill="#ebb3a2"/>
<rect x="267.50" y="510.86" width="20.40" height="8.52" fill="#fc5233"/>
<rect x="63.50" y="518.38" width="21.40" height="8.52" fill="#f19d85"/>
<rect x="83.90" y="518.38" width="21.40" height="8.52" fill="#fa6446"/>
<rect x="104.30" y="518.38" width="21.40" height="8.52" fill="#eea894"/>
<rect x="124.70" y="518.38" width="21.40" height="8.52" fill="#c7bfdf"/>
<rect x="145.10" y="518.38" width="21.40" height="8.52" fill="#f19d85"/>
<rect x="165.50" y="518.38" width="21.40" height="8.52" fill="#d5d1d8"/>
<rect x="185.90" y="518.38" width="21.40" height="8.52" fill="#b4a3e5"/>
<rect x="206.30" y="518.38" width="21.40" height="8.52" fill="#beb1e2"/>
<rect x="226.70" y="518.38" width="21.40" height="8.52" fill="#977dec"/>
<rect x="247.10" y="518.38" width="21.40" height="8.52" fill="#a28ae9"/>
<rect x="267.50" y="518.38" width="20.40" height="8.52" fill="#beb1e2"/>
<rect x="63.50" y="525.90" width="21.40" height="8.52" fill="#fa6446"/>
<rect x="83.90" y="525.90" width="21.40" height="8.52" fill="#e0c6be"/>
<rect x="104.30" y="525.90" width="21.40" height="8.52" fill="#ebb3a2"/>
<rect x="124.70" y="525.90" width="21.40" height="8.52" fill="#e6bcb0"/>
<rect x="145.10" y="525.90" width="21.40" height="8.52" fill="#ebb3a2"/>
<rect x="165.50" y="525.90" width="21.40" height="8.52" fill="#f19d85"/>
<rect x="185.90" y="525.90" width="21.40" height="8.52" fill="#b4a3e5"/>
<rect x="206.30" y="525.90" width="21.40" height="8.52" fill="#a28ae9"/>
<rect x="226.70" y="525.90" width="21.40" height="8.52" fill="#977dec"/>
<rect x="247.10" y="525.90" width="21.40" height="8.52" fill="#ab96e7"/>
<rect x="267.50" y="525.90" width="20.40" height="8.52" fill="#c7bfdf"/>
<rect x="63.50" y="533.42" width="21.40" height="8.52" fill="#beb1e2"/>
<rect x="83.90" y="533.42" width="21.40" height="8.52" fill="#ab96e7"/>
<rect x="104.30" y="533.42" width="21.40" height="8.52" fill="#b4a3e5"/>
<rect x="124.70" y="533.42" width="21.40" height="8.52" fill="#a28ae9"/>
<rect x="145.10" y="533.42" width="21.40" height="8.52" fill="#b4a3e5"/>
<rect x="165.50" y="533.42" width="21.40" height="8.52" fill="#b4a3e5"/>
<rect x="185.90" y="533.42" width="21.40" height="8.52" fill="#c7bfdf"/>
<rect x="206.30" y="533.42" width="21.40" height="8.52" fill="#f19d85"/>
<rect x="226.70" y="533.42" width="21.40" height="8.52" fill="#eea894"/>
<rect x="247.10" y="533.42" width="21.40" height="8.52" fill="#f7775a"/>
<rect x="267.50" y="533.42" width="20.40" height="8.52" fill="#eea894"/>
<rect x="63.50" y="540.94" width="21.40" height="8.52" fill="#ebb3a2"/>
<rect x="83.90" y="540.94" width="21.40" height="8.52" fill="#f19d85"/>
<rect x="104.30" y="540.94" width="21.40" height="8.52" fill="#ebb3a2"/>
<rect x="124.70" y="540.94" width="21.40" height="8.52" fill="#e6bcb0"/>
<rect x="145.10" y="540.94" width="21.40" height="8.52" fill="#f7775a"/>
<rect x="165.50" y="540.94" width="21.40" height="8.52" fill="#e6bcb0"/>
<rect x="185.90" y="540.94" width="21.40" height="8.52" fill="#d5d1d8"/>
<rect x="206.30" y="540.94" width="21.40" height="8.52" fill="#977dec"/>
<rect x="226.70" y="540.94" width="21.40" height="8.52" fill="#ab96e7"/>
<rect x="247.10" y="540.94" width="21.40" height="8.52" fill="#ab96e7"/>
<rect x="267.50" y="540.94" width="20.40" height="8.52" fill="#ab96e7"/>
<rect x="63.50" y="548.46" width="21.40" height="8.52" fill="#e6bcb0"/>
<rect x="83.90" y="548.46" width="21.40" height="8.52" fill="#c7bfdf"/>
<rect x="104.30" y="548.46" width="21.40" height="8.52" fill="#d5d1d8"/>
<rect x="124.70" y="548.46" width="21.40" height="8.52" fill="#f19d85"/>
<rect x="145.10" y="548.46" width="21.40" height="8.52" fill="#fc5233"/>
<rect x="165.50" y="548.46" width="21.40" height="8.52" fill="#e6bcb0"/>
<rect x="185.90" y="548.46" width="21.40" height="8.52" fill="#d5d1d8"/>
<rect x="206.30" y="548.46" width="21.40" height="8.52" fill="#b4a3e5"/>
<rect x="226.70" y="548.46" width="21.40" height="8.52" fill="#ab96e7"/>
<rect x="247.10" y="548.46" width="21.40" height="8.52" fill="#b4a3e5"/>
<rect x="267.50" y="548.46" width="20.40" height="8.52" fill="#beb1e2"/>
<rect x="63.50" y="555.98" width="21.40" height="8.52" fill="#a28ae9"/>
<rect x="83.90" y="555.98" width="21.40" height="8.52" fill="#b4a3e5"/>
<rect x="104.30" y="555.98" width="21.40" height="8.52" fill="#ab96e7"/>
<rect x="124.70" y="555.98" width="21.40" height="8.52" fill="#ab96e7"/>
<rect x="145.10" y="555.98" width="21.40" height="8.52" fill="#b4a3e5"/>
<rect x="165.50" y="555.98" width="21.40" height="8.52" fill="#d5d1d8"/>
<rect x="185.90" y="555.98" width="21.40" height="8.52" fill="#d5d1d8"/>
<rect x="206.30" y="555.98" width="21.40" height="8.52" fill="#c7bfdf"/>
<rect x="226.70" y="555.98" width="21.40" height="8.52" fill="#eea894"/>
<rect x="247.10" y="555.98" width="21.40" height="8.52" fill="#f19d85"/>
<rect x="267.50" y="555.98" width="20.40" height="8.52" fill="#fc5233"/>
<rect x="63.50" y="563.50" width="21.40" height="7.52" fill="#e6bcb0"/>
<rect x="83.90" y="563.50" width="21.40" height="7.52" fill="#c7bfdf"/>
<rect x="104.30" y="563.50" width="21.40" height="7.52" fill="#c7bfdf"/>
<rect x="124.70" y="563.50" width="21.40" height="7.52" fill="#eea894"/>
<rect x="145.10" y="563.50" width="21.40" height="7.52" fill="#fc5233"/>
<rect x="165.50" y="563.50" width="21.40" height="7.52" fill="#eea894"/>
<rect x="185.90" y="563.50" width="21.40" height="7.52" fill="#c7bfdf"/>
<rect x="206.30" y="563.50" width="21.40" height="7.52" fill="#ab96e7"/>
<rect x="226.70" y="563.50" width="21.40" height="7.52" fill="#ab96e7"/>
<rect x="247.10" y="563.50" width="21.40" height="7.52" fill="#ab96e7"/>
<rect x="267.50" y="563.50" width="20.40" height="7.52" fill="#c7bfdf"/>
<path d="M189.6 13.2L278.9 13.2 M189.6 13.2L189.6 47.6 M278.9 13.2L278.9 88.9 M141.3 47.6L232.8 47.6 M141.3 47.6L141.3 66.8 M232.8 47.6L232.8 79.3 M96.7 66.8L187.8 66.8 M96.7 66.8L96.7 80.4 M187.8 66.8L187.8 83.4 M218.6 79.3L248.3 79.3 M218.6 79.3L218.6 88.9 M248.3 79.3L248.3 87.5 M238.2 87.5L259.5 87.5 M238.2 87.5L238.2 88.9 M259.5 87.5L259.5 88.9 M177.0 83.4L197.4 83.4 M177.0 83.4L177.0 88.9 M197.4 83.4L197.4 88.9 M77.5 80.4L116.0 80.4 M77.5 80.4L77.5 88.9 M116.0 80.4L116.0 82.1 M98.0 82.1L134.5 82.1 M98.0 82.1L98.0 88.9 M134.5 82.1L134.5 84.5 M118.5 84.5L149.0 84.5 M118.5 84.5L118.5 88.9 M149.0 84.5L149.0 85.5 M138.8 85.5L159.3 85.5 M138.8 85.5L138.8 88.9 M159.3 85.5L159.3 88.9" stroke="#000" stroke-width="1.25" fill="none" stroke-linecap="square"/>
<path d="M151.3 298.6L277.7 298.6 M151.3 298.6L151.3 326.3 M277.7 298.6L277.7 375.0 M92.9 326.3L209.6 326.3 M92.9 326.3L92.9 360.6 M209.6 326.3L209.6 346.7 M73.4 360.6L112.0 360.6 M73.4 360.6L73.4 375.0 M112.0 360.6L112.0 364.6 M94.2 364.6L130.1 364.6 M94.2 364.6L94.2 375.0 M130.1 364.6L130.1 369.4 M114.5 369.4L145.3 369.4 M114.5 369.4L114.5 375.0 M145.3 369.4L145.3 370.5 M135.2 370.5L155.3 370.5 M135.2 370.5L135.2 375.0 M155.3 370.5L155.3 375.0 M191.8 346.7L209.6 346.7 M191.8 346.7L191.8 360.3 M176.6 360.3L206.6 360.3 M176.6 360.3L176.6 375.0 M206.6 360.3L206.6 368.8 M196.5 368.8L217.2 368.8 M196.5 368.8L196.5 375.0 M217.2 368.8L217.2 375.0 M248.8 346.7L248.8 364.7 M237.7 364.7L258.1 364.7 M237.7 364.7L237.7 375.0 M258.1 364.7L258.1 375.0" stroke="#151515" stroke-width="1.1" fill="none" stroke-linecap="square"/>
<path d="M209.6 346.7L248.8 346.7" stroke="#b0b0b0" stroke-width="1.0" fill="none" stroke-linecap="square"/>
<text x="292.6" y="96.52" font-family="Liberation Sans" font-size="7.1" fill="#111">p–bta–miR–3</text>
<text x="292.6" y="105.76" font-family="Liberation Sans" font-size="7.1" fill="#111">bta–miR–2284i</text>
<text x="292.6" y="115.00" font-family="Liberation Sans" font-size="7.1" fill="#111">bta–miR–2285m</text>
<text x="292.6" y="124.24" font-family="Liberation Sans" font-size="7.1" fill="#111">bta–miR–7858</text>
<text x="292.6" y="133.48" font-family="Liberation Sans" font-size="7.1" fill="#111">bta–miR–222</text>
<text x="292.6" y="142.72" font-family="Liberation Sans" font-size="7.1" fill="#111">bta–miR–146b</text>
<text x="292.6" y="151.96" font-family="Liberation Sans" font-size="7.1" fill="#111">bta–miR–2427</text>
<text x="292.6" y="161.20" font-family="Liberation Sans" font-size="7.1" fill="#111">bta–miR–2898</text>
<text x="292.6" y="170.44" font-family="Liberation Sans" font-size="7.1" fill="#111">bta–miR–2478</text>
<text x="292.6" y="179.68" font-family="Liberation Sans" font-size="7.1" fill="#111">bta–miR–628</text>
<text x="292.6" y="188.92" font-family="Liberation Sans" font-size="7.1" fill="#111">bta–miR–1306</text>
<text x="292.6" y="198.16" font-family="Liberation Sans" font-size="7.1" fill="#111">bta–miR–1249</text>
<text x="292.6" y="207.40" font-family="Liberation Sans" font-size="7.1" fill="#111">bta–miR–708</text>
<text x="292.6" y="216.64" font-family="Liberation Sans" font-size="7.1" fill="#111">bta–miR–221</text>
<text x="292.6" y="225.88" font-family="Liberation Sans" font-size="7.1" fill="#111">bta–miR–1246</text>
<text x="292.6" y="235.12" font-family="Liberation Sans" font-size="7.1" fill="#111">bta–miR–2892</text>
<text x="292.6" y="244.36" font-family="Liberation Sans" font-size="7.1" fill="#111">bta–miR–9–5p</text>
<text x="299.6" y="382.36" font-family="Liberation Sans" font-weight="bold" font-size="6.85" fill="#000" stroke="#000" stroke-width="0.2">p–bta–miR–3</text>
<text x="299.6" y="389.88" font-family="Liberation Sans" font-weight="bold" font-size="6.85" fill="#000" stroke="#000" stroke-width="0.2">bta–miR–2284i</text>
<text x="299.6" y="397.40" font-family="Liberation Sans" font-weight="bold" font-size="6.85" fill="#000" stroke="#000" stroke-width="0.2">bta–miR–2436</text>
<text x="299.6" y="404.92" font-family="Liberation Sans" font-weight="bold" font-size="6.85" fill="#000" stroke="#000" stroke-width="0.2">bta–miR–2285m</text>
<text x="299.6" y="412.44" font-family="Liberation Sans" font-weight="bold" font-size="6.85" fill="#000" stroke="#000" stroke-width="0.2">bta–miR–2478</text>
<text x="299.6" y="419.96" font-family="Liberation Sans" font-weight="bold" font-size="6.85" fill="#000" stroke="#000" stroke-width="0.2">bta–miR–223</text>
<text x="299.6" y="427.48" font-family="Liberation Sans" font-weight="bold" font-size="6.85" fill="#000" stroke="#000" stroke-width="0.2">bta–miR–1249</text>
<text x="299.6" y="435.00" font-family="Liberation Sans" font-weight="bold" font-size="6.85" fill="#000" stroke="#000" stroke-width="0.2">bta–miR–128</text>
<text x="299.6" y="442.52" font-family="Liberation Sans" font-weight="bold" font-size="6.85" fill="#000" stroke="#000" stroke-width="0.2">bta–miR–2427</text>
<text x="299.6" y="450.04" font-family="Liberation Sans" font-weight="bold" font-size="6.85" fill="#000" stroke="#000" stroke-width="0.2">bta–miR–2898</text>
<text x="299.6" y="457.56" font-family="Liberation Sans" font-weight="bold" font-size="6.85" fill="#000" stroke="#000" stroke-width="0.2">bta–miR–600</text>
<text x="299.6" y="465.08" font-family="Liberation Sans" font-weight="bold" font-size="6.85" fill="#000" stroke="#000" stroke-width="0.2">bta–miR–92b</text>
<text x="299.6" y="472.60" font-family="Liberation Sans" font-weight="bold" font-size="6.85" fill="#000" stroke="#000" stroke-width="0.2">bta–miR–484</text>
<text x="299.6" y="480.12" font-family="Liberation Sans" font-weight="bold" font-size="6.85" fill="#000" stroke="#000" stroke-width="0.2">bta–miR–365–3p</text>
<text x="299.6" y="487.64" font-family="Liberation Sans" font-weight="bold" font-size="6.85" fill="#000" stroke="#000" stroke-width="0.2">bta–miR–1306</text>
<text x="299.6" y="495.16" font-family="Liberation Sans" font-weight="bold" font-size="6.85" fill="#000" stroke="#000" stroke-width="0.2">bta–miR–374b</text>
<text x="299.6" y="502.68" font-family="Liberation Sans" font-weight="bold" font-size="6.85" fill="#000" stroke="#000" stroke-width="0.2">bta–miR–628</text>
<text x="299.6" y="510.20" font-family="Liberation Sans" font-weight="bold" font-size="6.85" fill="#000" stroke="#000" stroke-width="0.2">bta–miR–197</text>
<text x="299.6" y="517.72" font-family="Liberation Sans" font-weight="bold" font-size="6.85" fill="#000" stroke="#000" stroke-width="0.2">bta–miR–425–5p</text>
<text x="299.6" y="525.24" font-family="Liberation Sans" font-weight="bold" font-size="6.85" fill="#000" stroke="#000" stroke-width="0.2">bta–miR–340</text>
<text x="299.6" y="532.76" font-family="Liberation Sans" font-weight="bold" font-size="6.85" fill="#000" stroke="#000" stroke-width="0.2">bta–miR–30d</text>
<text x="299.6" y="540.28" font-family="Liberation Sans" font-weight="bold" font-size="6.85" fill="#000" stroke="#000" stroke-width="0.2">bta–miR–425–3p</text>
<text x="299.6" y="547.80" font-family="Liberation Sans" font-weight="bold" font-size="6.85" fill="#000" stroke="#000" stroke-width="0.2">bta–miR–505</text>
<text x="299.6" y="555.32" font-family="Liberation Sans" font-weight="bold" font-size="6.85" fill="#000" stroke="#000" stroke-width="0.2">bta–miR–125a</text>
<text x="299.6" y="562.84" font-family="Liberation Sans" font-weight="bold" font-size="6.85" fill="#000" stroke="#000" stroke-width="0.2">bta–miR–146b</text>
<text x="299.6" y="570.36" font-family="Liberation Sans" font-weight="bold" font-size="6.85" fill="#000" stroke="#000" stroke-width="0.2">bta–miR–1343–3p</text>
<text transform="translate(78.38,249.60) rotate(-90)" text-anchor="end" font-family="Liberation Sans" font-size="7.2" fill="#111">6–control</text>
<text transform="translate(98.74,249.60) rotate(-90)" text-anchor="end" font-family="Liberation Sans" font-size="7.2" fill="#111">4–control</text>
<text transform="translate(119.10,249.60) rotate(-90)" text-anchor="end" font-family="Liberation Sans" font-size="7.2" fill="#111">8–control</text>
<text transform="translate(139.46,249.60) rotate(-90)" text-anchor="end" font-family="Liberation Sans" font-size="7.2" fill="#111">2–control</text>
<text transform="translate(159.82,249.60) rotate(-90)" text-anchor="end" font-family="Liberation Sans" font-size="7.2" fill="#111">3–control</text>
<text transform="translate(180.18,249.60) rotate(-90)" text-anchor="end" font-family="Liberation Sans" font-size="7.2" fill="#111">5–control</text>
<text transform="translate(200.54,249.60) rotate(-90)" text-anchor="end" font-family="Liberation Sans" font-size="6.9" fill="#111">3–ST103</text>
<text transform="translate(220.90,249.60) rotate(-90)" text-anchor="end" font-family="Liberation Sans" font-size="6.9" fill="#111">8–ST103</text>
<text transform="translate(241.26,249.60) rotate(-90)" text-anchor="end" font-family="Liberation Sans" font-size="6.9" fill="#111">2–ST103</text>
<text transform="translate(261.62,249.60) rotate(-90)" text-anchor="end" font-family="Liberation Sans" font-size="6.9" fill="#111">4–ST103</text>
<text transform="translate(281.98,249.60) rotate(-90)" text-anchor="end" font-family="Liberation Sans" font-size="6.9" fill="#111">5–ST103</text>
<text transform="translate(75.30,573.40) rotate(-90)" text-anchor="end" font-family="Liberation Sans" font-weight="bold" font-size="6.6" fill="#000">2–control</text>
<text transform="translate(95.70,573.40) rotate(-90)" text-anchor="end" font-family="Liberation Sans" font-weight="bold" font-size="6.6" fill="#000">6–control</text>
<text transform="translate(116.10,573.40) rotate(-90)" text-anchor="end" font-family="Liberation Sans" font-weight="bold" font-size="6.6" fill="#000">8–control</text>
<text transform="translate(136.50,573.40) rotate(-90)" text-anchor="end" font-family="Liberation Sans" font-weight="bold" font-size="6.6" fill="#000">4–control</text>
<text transform="translate(156.90,573.40) rotate(-90)" text-anchor="end" font-family="Liberation Sans" font-weight="bold" font-size="6.6" fill="#000">3–control</text>
<text transform="translate(177.30,573.40) rotate(-90)" text-anchor="end" font-family="Liberation Sans" font-weight="bold" font-size="6.6" fill="#000">5–control</text>
<text transform="translate(197.70,573.40) rotate(-90)" text-anchor="end" font-family="Liberation Sans" font-weight="bold" font-size="7.3" fill="#000">3–ST12</text>
<text transform="translate(218.10,573.40) rotate(-90)" text-anchor="end" font-family="Liberation Sans" font-weight="bold" font-size="7.3" fill="#000">2–ST12</text>
<text transform="translate(238.50,573.40) rotate(-90)" text-anchor="end" font-family="Liberation Sans" font-weight="bold" font-size="7.3" fill="#000">6–ST12</text>
<text transform="translate(258.90,573.40) rotate(-90)" text-anchor="end" font-family="Liberation Sans" font-weight="bold" font-size="7.3" fill="#000">4–ST12</text>
<text transform="translate(279.30,573.40) rotate(-90)" text-anchor="end" font-family="Liberation Sans" font-weight="bold" font-size="7.3" fill="#000">5–ST12</text>
<text x="-1.2" y="11.0" font-family="Liberation Sans" font-weight="bold" font-size="19" fill="#000">a</text>
<text x="0.2" y="297.1" font-family="Liberation Sans" font-weight="bold" font-size="17" fill="#000">b</text>
<text x="19.6" y="22.3" font-family="Liberation Sans" font-weight="bold" font-size="7.3" letter-spacing="0.3" fill="#000">Color Key</text>
<rect x="20.2" y="27" width="37.4" height="20.5" fill="url(#g)" stroke="#000" stroke-width="1"/>
<path d="M26.2 47.5L26.2 52.0 M32.5 47.5L32.5 52.0 M39.1 47.5L39.1 52.0 M45.7 47.5L45.7 52.0 M52.2 47.5L52.2 52.0" stroke="#000" stroke-width="1.1" fill="none" stroke-linecap="square"/>
<text x="21.9" y="63.0" font-family="Liberation Sans" font-size="7" fill="#000">–2</text>
<text x="36.7" y="63.0" font-family="Liberation Sans" font-size="7" fill="#000">0</text>
<text x="49.85" y="63.0" font-family="Liberation Sans" font-size="7" fill="#000">2</text>
<text x="10.6" y="74.7" font-family="Liberation Sans" font-size="9.5" fill="#000">Row Z–Score</text>
<text x="17.4" y="307.4" font-family="Liberation Sans" font-size="8.6" letter-spacing="0.3" fill="#000" stroke="#000" stroke-width="0.3">Color Key</text>
<rect x="18.4" y="312.7" width="37.7" height="20.7" fill="url(#g)"/>
<path d="M23.8 333.4L23.8 337.6 M30.3 333.4L30.3 337.6 M37.3 333.4L37.3 337.6 M44.1 333.4L44.1 337.6 M51.0 333.4L51.0 337.6" stroke="#333" stroke-width="1.0" fill="none" stroke-linecap="square"/>
<text x="19.7" y="348.9" font-family="Liberation Sans" font-weight="bold" font-size="7" fill="#000">–2</text>
<text x="35.3" y="348.9" font-family="Liberation Sans" font-weight="bold" font-size="7" fill="#000">0</text>
<text x="48.5" y="348.9" font-family="Liberation Sans" font-weight="bold" font-size="7" fill="#000">2</text>
<text x="8.9" y="360.3" font-family="Liberation Sans" font-weight="bold" font-size="8.5" letter-spacing="0.3" fill="#000">Row Z–Score</text>
</svg>
</body></html>
